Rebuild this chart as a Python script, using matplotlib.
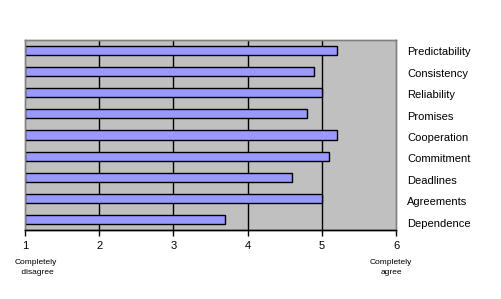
import matplotlib
matplotlib.use("Agg")
import matplotlib.pyplot as plt
import numpy as np

plt.rcParams["font.family"] = ["Liberation Sans", "DejaVu Sans"]

# data, top to bottom
categories = ["Predictability", "Consistency", "Reliability", "Promises",
              "Cooperation", "Commitment", "Deadlines", "Agreements", "Dependence"]
scores = [5.2, 4.9, 5.0, 4.8, 5.2, 5.1, 4.6, 5.0, 3.7]
x_ticks = [1, 2, 3, 4, 5, 6]

fig = plt.figure(figsize=(5.01, 2.99), dpi=100)
ax = fig.add_axes([25 / 501, 1 - 230 / 299, (396 - 25) / 501, (230 - 40) / 299])
ax.set_facecolor("#C0C0C0")

y = np.arange(len(categories))[::-1]
ax.barh(y, np.array(scores) - 1, left=1, height=0.43,
        color="#9999FF", edgecolor="black", linewidth=1.0, zorder=3)

ax.set_xlim(1, 6)
ax.set_ylim(-0.5, len(categories) - 0.5)
ax.set_xticks(x_ticks)
ax.set_xticklabels([str(t) for t in x_ticks], fontsize=8)
for xv in x_ticks[1:-1]:
    ax.axvline(xv, color="black", linewidth=1.0, zorder=1)
ax.set_yticks([])
ax.tick_params(axis="x", length=4, width=1, pad=4, color="black")

# category labels sit on the right, spaced a little wider than the bars
lab = ax.twinx()
lab.set_ylim(-0.326, 8.512)
lab.set_yticks(y)
lab.set_yticklabels(categories, fontsize=8)
lab.tick_params(axis="y", length=0, pad=8)

for a in (ax, lab):
    for side in ["top", "left", "right"]:
        a.spines[side].set_color("#808080")
        a.spines[side].set_linewidth(1.0)
    a.spines["bottom"].set_color("black")
    a.spines["bottom"].set_linewidth(1.0)

fig.text(36 / 501, 1 - 268 / 299, "Completely\n disagree", fontsize=6,
         ha="center", va="center", linespacing=1.6)
fig.text(391 / 501, 1 - 268 / 299, "Completely\nagree", fontsize=6,
         ha="center", va="center", linespacing=1.6)

fig.savefig("out.png", dpi=100, facecolor="white")
